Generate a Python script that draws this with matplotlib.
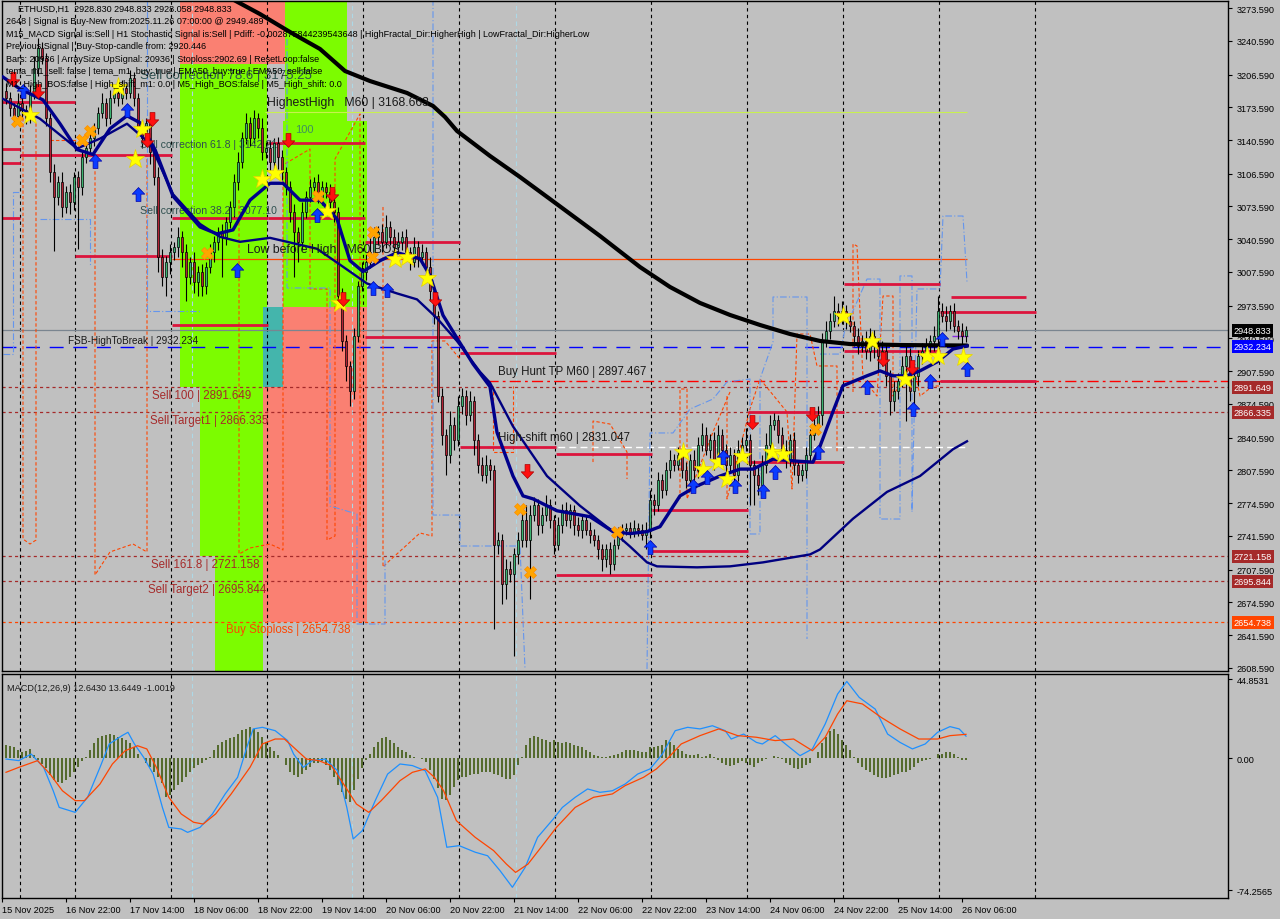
import matplotlib
matplotlib.use("Agg")
import matplotlib.pyplot as plt
from matplotlib.patches import Rectangle
from matplotlib.path import Path

plt.rcParams['font.family'] = ['Liberation Sans', 'DejaVu Sans']

# ---------------- data ----------------
first_open = 3190.0
closes = [3183, 3173, 3165, 3178, 3171, 3163, 3188, 3213, 3233, 3223,
          3163, 3108, 3083, 3098, 3073, 3088, 3078, 3103, 3093, 3123,
          3133, 3143, 3153, 3168, 3178, 3163, 3183, 3188, 3183, 3193,
          3188, 3203, 3183, 3153, 3143, 3158, 3128, 3103, 3023, 3003,
          3018, 3028, 3033, 3043, 3028, 3003, 3018, 2998, 3008, 2993,
          3013, 3028, 3038, 3048, 3043, 3058, 3073, 3098, 3118, 3143,
          3158, 3143, 3163, 3153, 3128, 3133, 3118, 3138, 3123, 3108,
          3093, 3068, 3048, 3038, 3068, 3083, 3093, 3098, 3083, 3093,
          3088, 3078, 3068, 2983, 2938, 2913, 2888, 2943, 2993, 3008,
          3018, 3028, 3043, 3048, 3038, 3053, 3043, 3033, 3038, 3043,
          3028, 3018, 3033, 3023, 3028, 3013, 2988, 2963, 2883, 2843,
          2823, 2853, 2838, 2873, 2883, 2863, 2878, 2838, 2813, 2803,
          2813, 2808, 2733, 2738, 2693, 2708, 2703, 2723, 2738, 2758,
          2738, 2763, 2773, 2753, 2763, 2773, 2758, 2733, 2753, 2768,
          2758, 2768, 2753, 2748, 2758, 2748, 2743, 2738, 2728, 2718,
          2728, 2713, 2733, 2743, 2748, 2750, 2746, 2750, 2748, 2743,
          2748, 2778, 2773, 2798, 2788, 2808, 2818, 2813, 2823, 2808,
          2798, 2818, 2808, 2833, 2843, 2828, 2838, 2818, 2843, 2828,
          2813, 2823, 2803, 2828, 2833, 2838, 2813, 2803, 2793, 2813,
          2833, 2853, 2858, 2843, 2828, 2818, 2838, 2813, 2803, 2808,
          2823, 2843, 2853, 2863, 2938, 2948, 2958, 2968, 2963, 2968,
          2958, 2953, 2943, 2933, 2938, 2928, 2943, 2933, 2923, 2928,
          2903, 2878, 2888, 2898, 2913, 2923, 2888, 2903, 2923, 2928,
          2933, 2938, 2943, 2968, 2963, 2958, 2968, 2953, 2948, 2943, 2948.833]
up_wick = [8, 6, 5, 10, 6, 5, 8, 12, 10, 6,
           5, 5, 8, 6, 10, 6, 8, 5, 6, 8,
           6, 8, 5, 6, 10, 5, 8, 6, 5, 8,
           5, 8, 6, 5, 8, 5, 6, 5, 10, 8,
           6, 8, 5, 10, 6, 8, 5, 10, 6, 8,
           5, 8, 6, 5, 8, 5, 6, 8, 10, 6,
           10, 6, 8, 5, 10, 6, 8, 5, 6, 8,
           5, 6, 8, 5, 10, 6, 8, 5, 8, 6,
           5, 8, 6, 5, 8, 6, 5, 8, 6, 10,
           8, 15, 10, 6, 8, 12, 6, 8, 10, 6,
           8, 5, 10, 6, 8, 5, 10, 6, 5, 8,
           6, 15, 8, 10, 8, 6, 10, 5, 6, 8,
           10, 6, 5, 8, 6, 10, 8, 6, 8, 12,
           15, 10, 8, 6, 8, 10, 6, 5, 8, 6,
           8, 6, 5, 8, 6, 5, 8, 6, 5, 6,
           6, 8, 6, 8, 6, 5, 6, 8, 5, 6,
           8, 10, 6, 8, 6, 8, 10, 6, 8, 6,
           8, 6, 10, 8, 12, 8, 6, 8, 10, 6,
           6, 8, 6, 10, 8, 12, 6, 5, 8, 10,
           12, 10, 8, 6, 8, 10, 6, 8, 5, 6,
           8, 6, 8, 10, 8, 10, 8, 15, 8, 10,
           6, 8, 5, 8, 6, 10, 8, 6, 8, 10,
           8, 6, 10, 8, 10, 12, 8, 10, 6, 8,
           8, 6, 10, 15, 8, 10, 6, 8, 6, 8, 4]
dn_wick = [6, 8, 10, 5, 8, 6, 5, 6, 8, 6,
           8, 10, 54, 8, 10, 6, 12, 8, 62, 8,
           6, 5, 8, 6, 5, 8, 6, 5, 8, 6,
           6, 5, 8, 6, 10, 8, 12, 8, 15, 10,
           20, 12, 8, 10, 15, 25, 8, 12, 15, 10,
           8, 6, 10, 8, 40, 8, 6, 10, 8, 6,
           6, 8, 5, 10, 8, 6, 10, 8, 12, 8,
           8, 10, 45, 20, 8, 6, 5, 8, 6, 8,
           6, 8, 10, 12, 10, 15, 15, 8, 6, 5,
           8, 6, 5, 8, 10, 6, 8, 10, 6, 8,
           6, 8, 5, 10, 8, 6, 10, 8, 6, 10,
           20, 8, 10, 6, 8, 10, 6, 15, 8, 6,
           8, 10, 85, 10, 20, 15, 8, 82, 10, 8,
           8, 60, 6, 10, 8, 6, 8, 10, 6, 8,
           6, 8, 10, 6, 8, 5, 8, 6, 10, 12,
           8, 10, 6, 5, 6, 5, 6, 5, 6, 5,
           15, 8, 10, 6, 8, 5, 8, 6, 5, 8,
           8, 6, 10, 8, 6, 5, 8, 10, 6, 8,
           10, 8, 12, 6, 8, 6, 40, 30, 10, 8,
           8, 6, 5, 8, 10, 8, 6, 10, 8, 6,
           8, 6, 5, 8, 10, 6, 8, 6, 10, 8,
           8, 6, 10, 8, 6, 8, 10, 12, 15, 10,
           10, 15, 10, 8, 6, 56, 10, 20, 10, 8,
           8, 6, 10, 8, 6, 10, 8, 6, 8, 10, 6]

# moving averages: (bar position, price)
fast_ma_bars = [-0.75, 3.5, 9.25, 13.5, 17.75, 21.75, 26, 30.25, 33.5, 37.25, 41.75, 48.5, 52.75, 56.75,
                61, 66, 69.25, 73.5, 78.5, 82.75, 86, 89.25, 93.5, 97.75, 103.5, 106, 109.25, 112.75,
                116.75, 121, 122.75, 126.75, 129.25, 131.75, 137.75, 146, 151.75, 156, 160.25, 163.5,
                168.5, 172.75, 178.5, 183.5, 186.75, 191.75, 197.75, 201.75, 203.5, 206.75, 209.25,
                215.25, 218.5, 221.75, 225.25, 228.5, 232.75, 236.75, 240.25]
fast_ma_vals = [3204, 3192, 3181, 3157, 3131, 3126, 3152, 3165, 3158, 3131, 3084, 3053, 3046, 3050,
                3080, 3097, 3097, 3080, 3080, 3061, 3019, 3008, 3019, 3027, 3021, 3004, 2964, 2941,
                2915, 2892, 2846, 2802, 2782, 2779, 2767, 2761, 2746, 2744, 2746, 2751,
                2782, 2792, 2802, 2809, 2809, 2819, 2817, 2816, 2832, 2867, 2893,
                2903, 2908, 2903, 2903, 2908, 2917, 2930, 2933]
slow_ma_bars = [-0.75, 8.5, 17.75, 23.5, 30.25, 36, 41.75, 48.5, 53.5, 58.5, 66, 77.75, 83.5, 90.25,
                97.75, 102.75, 107.75, 112.75, 118.5, 121, 126.75, 135.25, 143.5, 151.75, 156, 160.25,
                162.75, 172.75, 181, 189.25, 201, 203.5, 211.75, 220.25, 228.5, 236.75, 240.25]
slow_ma_vals = [3182, 3162, 3132, 3142, 3157, 3137, 3086, 3056, 3043, 3038, 3042, 3031, 3015, 2996,
                2986, 2980, 2961, 2938, 2907, 2896, 2852, 2802, 2772, 2746, 2731, 2715,
                2711, 2710, 2711, 2715, 2723, 2728, 2759, 2786, 2802, 2829, 2837]
long_ma_bars = [56.5, 63.5, 71, 78.5, 84.75, 91, 100.25, 106.75, 109.75, 112.75, 121, 128.5, 136, 148.5,
                158.5, 166, 173.5, 181, 188.5, 196, 203.5, 211, 223.5, 240.25]
long_ma_vals = [3282.7, 3267.5, 3249.4, 3232.3, 3210.1, 3200.0, 3188.0, 3174.9, 3163.8, 3149.7, 3124.5,
                3103.3, 3081.1, 3043.9, 3012.6, 2992.5, 2976.4, 2964.3, 2954.2, 2945.1, 2938.1, 2935.0,
                2934.0, 2933.5]

# MACD
macd_bars = [0, 3.2, 6.3, 9.4, 11.8, 13.3, 17.3, 20.4, 23.5, 25.8, 29.0, 30.5, 32.1, 34.4, 36.8, 39.1,
             40.7, 43.8, 45.4, 48.5, 51.6, 54.8, 57.9, 60.2, 61.8, 64.1, 67.3, 70.4, 71.9, 74.3, 76.6,
             79.8, 82.9, 85.2, 86.8, 89.1, 92.3, 95.4, 98.5, 101.6, 104.8, 107.9, 110.2, 113.3, 117.3,
             120.4, 123.5, 126.6, 129.8, 132.9, 136.8, 139.1, 142.3, 145.4, 148.5, 151.6, 154.8, 157.9,
             161.0, 164.1, 167.3, 170.4, 173.5, 176.6, 179.8, 181.3, 184.4, 187.6, 189.1, 192.3, 195.4,
             198.5, 201.6, 204.8, 207.9, 210.2, 213.3, 217.3, 220.4, 223.5, 226.6, 229.8, 232.9, 236.0,
             238.3, 240]
macd_vals = [-0.3, -1.2, 2.5, -5.0, -18.2, -27.6, -30.4, -21.9, -5.0, 8.2, 12.9, 14.8, 8.2, 0.7, -8.8,
             -27.6, -38.9, -39.8, -41.7, -38.9, -31.3, -20.0, -10.6, 6.3, 16.7, 17.6, 15.7, 10.1, 2.5,
             -5.0, -1.2, -0.3, -6.9, -27.6, -45.4, -40.7, -23.8, -8.8, -3.1, -4.0, -6.9, -21.9, -50.1,
             -49.2, -52.9, -54.9, -63.3, -72.7, -61.4, -44.5, -34.2, -27.6, -21.9, -17.2, -19.1, -18.2,
             -14.4, -8.8, -5.9, 2.5, 15.7, 17.6, 16.7, 18.5, 15.7, 11.0, 13.8, 9.1, 8.2, 12.9, 7.2, 1.6,
             5.4, 19.5, 36.4, 43.5, 34.5, 27.9, 13.8, 9.1, 5.4, 8.2, 14.8, 18.0, 16.7, 12.64]
signal_bars = [0, 3.2, 7.9, 11.0, 14.1, 17.3, 19.6, 23.5, 26.6, 29.8, 32.9, 35.2, 37.6, 40.7, 43.8, 46.9,
               49.3, 52.4, 56.3, 61.0, 64.1, 67.3, 69.6, 71.9, 75.1, 78.2, 81.3, 84.4, 87.6, 90.7, 93.8,
               98.5, 101.6, 104.8, 107.1, 109.4, 112.6, 117.3, 121.9, 125.1, 127.4, 130.5, 134.4, 137.6,
               142.3, 146.9, 151.6, 154.8, 159.4, 162.6, 165.7, 168.8, 173.5, 178.2, 182.9, 187.6, 192.3,
               196.9, 201.6, 204.8, 207.9, 210.2, 214.1, 218.8, 223.5, 228.2, 232.9, 236.0, 240]
signal_vals = [-7.8, -5.0, -1.2, -8.8, -18.2, -23.8, -23.8, -14.4, -3.1, 4.4, 7.2, 5.4, -5.0, -21.9,
               -31.3, -36.0, -37.0, -31.3, -20.0, -5.0, 8.2, 11.0, 11.0, 6.3, -0.3, -1.2, -4.0, -14.4,
               -25.7, -30.4, -23.8, -12.5, -7.8, -5.9, -10.6, -18.2, -35.1, -44.5, -52.0, -59.6, -64.3,
               -59.6, -48.3, -38.9, -27.6, -21.9, -20.0, -15.3, -10.6, -5.9, 0.7, 8.2, 12.9, 16.7, 12.9,
               12.0, 10.1, 11.0, 4.4, 12.0, 25.1, 32.6, 30.8, 23.2, 16.7, 11.0, 11.0, 12.9, 13.64]
hist_vals = [7.5, 7.1, 6.6, 4.7, 3.4, 4.0, 5.5, 2.0, -1.0, -3.0,
             -5.6, -9.4, -12.2, -13.2, -14.1, -12.2, -10.3, -7.5, -4.7, -1.5,
             0.9, 4.7, 8.5, 11.3, 12.8, 13.5, 13.9, 13.2, 12.2, 11.3,
             10.3, 8.5, 6.6, 2.8, 0.4, -2.3, -4.7, -7.5, -10.3, -14.1,
             -21.6, -20.7, -17.9, -15.0, -13.2, -10.3, -7.5, -5.6, -3.8, -2.3,
             -0.9, 0.9, 4.7, 7.5, 9.4, 10.3, 11.3, 12.2, 14.1, 16.0,
             16.9, 17.9, 16.5, 15.0, 12.2, 9.4, 6.6, 4.1, 1.9, 0.3,
             -3.8, -7.5, -9.4, -10.3, -8.5, -6.6, -4.7, -2.8, -2.3, -1.5,
             -3.8, -6.6, -10.3, -15.0, -18.8, -22.6, -24.4, -17.9, -11.3, -5.6,
             -0.9, 2.8, 6.6, 9.4, 11.3, 12.2, 10.3, 8.5, 6.6, 4.7,
             3.4, 1.9, 0.9, 0.3, -0.3, -1.9, -6.6, -11.3, -16.9, -22.9,
             -23.5, -20.7, -16.0, -12.2, -10.3, -10.3, -9.4, -9.0, -8.5, -7.9,
             -7.5, -7.9, -8.5, -9.4, -10.3, -11.3, -11.7, -9.4, -3.8, 0.9,
             7.5, 11.3, 12.6, 12.2, 10.9, 10.3, 9.4, 10.3, 9.4, 8.5,
             9.4, 8.5, 7.5, 7.1, 6.6, 4.7, 3.4, 1.9, 1.5, 0.9,
             0.9, 1.3, 1.9, 2.8, 3.8, 4.7, 4.7, 4.7, 4.1, 3.4,
             3.8, 6.6, 6.6, 7.1, 7.9, 10.3, 9.4, 7.5, 5.6, 4.1,
             2.8, 1.9, 1.9, 2.3, 0.9, 1.5, 2.3, 0.9, -0.9, -2.8,
             -3.8, -4.1, -3.4, -2.3, -1.5, -2.3, -3.8, -4.7, -2.8, -1.5,
             -0.4, 0.4, 1.5, 0.9, -0.4, -2.3, -3.8, -5.3, -6.0, -5.6,
             -3.8, -2.3, 0.3, 3.8, 8.5, 12.2, 15.4, 16.5, 14.1, 10.3,
             7.5, 4.7, 0.9, -2.3, -4.7, -6.6, -7.9, -9.4, -10.3, -10.9,
             -10.9, -10.3, -9.4, -9.0, -7.9, -7.5, -6.6, -4.7, -2.8, -1.5,
             -0.9, -0.4, 0.4, 2.3, 2.6, 3.4, 3.4, 2.6, 0.9, -1.1, -1.0019]

# levels
sell_levels = [2891.649, 2866.335, 2721.158, 2695.844]
stoploss_level = 2654.738
fsb_level = 2932.234
last_price = 2948.833
hunt_tp = 2897.467
high_shift = 2831.047
low_before_high = 3020.7
highest_high = 3168.663

# crimson segment levels: (start bar, end bar, price)
seg_start = [-1, -1, -1, -1, 3.5, 17.25, 41.5, 41.5, 65.5, 65.5, 89.75, 89.75, 113.5, 113.5,
             137.5, 137.5, 161.5, 161.5, 185.5, 185.5, 209.5, 209.5, 233.5, 233.5, 236.25]
seg_end = [3.5, 3.5, 3.5, 17.25, 41.5, 41.5, 65.5, 65.5, 89.75, 89.75, 113.5, 113.5, 137.5, 137.5,
           161.5, 161.5, 185.5, 185.5, 209.5, 209.5, 233.5, 233.5, 257.5, 257.5, 255]
seg_price = [3131.5, 3117.4, 3062.0, 3178.9, 3125.5, 3024.1, 3062.3, 2954.2, 3137.6, 3062.0, 3037.8,
             2942.1, 2926.0, 2831.7, 2824.2, 2702.3, 2768.1, 2726.8, 2866.5, 2816.4, 2995.5, 2928.3,
             2967.0, 2898.1, 2982.4]

# coloured zones: (bar0, bar1, price0, price1, colour)
zone_b0 = [43.5, 43.5, 69.75, 69.25, 64.25, 64.25, 48.5, 52.25]
zone_b1 = [69.75, 65.25, 85.25, 90.25, 90.25, 69.25, 64.25, 64.25]
zone_p0 = [3217.0, 2891.649, 3160.0, 2972.3, 2654.738, 2891.649, 2721.158, 2600.0]
zone_p1 = [3290.0, 3217.0, 3290.0, 3160.0, 2972.3, 2972.3, 2891.649, 2721.158]
zone_col = ['#fa8072', '#7cfc00', '#7cfc00', '#7cfc00', '#fa8072', '#44b5ac', '#7cfc00', '#7cfc00']

# envelope step lines
orange_bars = [
    [3.5, 4.25, 4.25, 6, 7.5, 7.5],
    [11, 17.75],
    [22.25, 22.25, 26, 31.75, 35.25, 35.25],
    [58.25, 58.25, 61, 66, 69.25, 69.25, 76, 76, 80.25, 80.25, 82.25, 82.25, 88.5, 88.5],
    [94.25, 94.25, 95.25, 103.5, 106.5, 106.5, 109.75, 113.5],
    [121.75, 121.75, 126.75, 126.75],
    [146.75, 146.75, 151, 155.25, 155.25],
    [168.5, 168.5, 170.25, 170.25, 176.75, 181],
    [180.25, 180.25, 186, 188.5, 195.25, 196.5, 197.75, 201, 202.75, 207.75, 207.75],
    [211.75, 211.75, 212.75, 214.25, 217.75, 219.25, 221.75, 221.75, 226.75, 228.5, 231.75, 233.5]]
orange_vals = [
    [3181.9, 3181.9, 2738.5, 2733.5, 2737.5, 3157.7],
    [3140.6, 3140.6],
    [3131.5, 2702.3, 2725.5, 2733.5, 2725.5, 3126.5],
    [3080.1, 2723.4, 2729.5, 2733.5, 2727.5, 3115.4, 3131.5, 2990.5, 2990.5, 2737.5, 2741.6, 3121.5, 3166.8, 2748.6],
    [3073.1, 2710.3, 2714.4, 2744.6, 2741.6, 2938.1, 2938.1, 2919.9],
    [2892.7, 2826.2, 2826.2, 2892.7],
    [2816.1, 2857.4, 2854.4, 2826.2, 2799.0],
    [2778.9, 2889.7, 2889.7, 2778.9, 2846.4, 2886.7],
    [2882.6, 2778.9, 2869.5, 2899.8, 2866.5, 2788.9, 2945.1, 2945.1, 2912.9, 2912.9, 2826.2],
    [2886.7, 3035.8, 3033.8, 2899.8, 2882.6, 2983.4, 2983.4, 2882.6, 2916.9, 2882.6, 2892.7, 2892.7]]
blue_bars = [
    [-0.75, 1.75, 1.75, 3.5],
    [8.5, 21, 21],
    [35.25, 35.25, 48.5],
    [70.25, 70.25, 75.25, 81, 81, 87.75, 87.75, 94.75, 94.75],
    [106.75, 106.75, 113.5, 113.5, 128.5, 129.75],
    [160.25, 161, 166.75, 171, 176.75, 180.25, 186, 186, 188.5, 188.5, 191.75, 191.75, 200.25, 200.25],
    [203.5, 208.5, 209.75, 215.25, 218.5, 218.5, 223.5, 223.5, 226.5, 226.5, 227.75, 232.75, 233.5, 234.25, 239.25, 240.25]]
blue_vals = [
    [2924.9, 2924.9, 3088.2, 3088.2],
    [3061, 3061, 3014.6],
    [3285, 2968.3, 2968.3],
    [3242.4, 2991.5, 2991.5, 2991.5, 2771.8, 2763.7, 2652.9, 2652.9, 2718.4],
    [3285, 2762.7, 2762.7, 2731.5, 2731.5, 2607.6],
    [2607.6, 2845.4, 2845.4, 2869.5, 2879.6, 2896.8, 2899.8, 2743.6, 2743.6, 2899.8, 2937.1, 2982.4, 2982.4, 2637.8],
    [2924.9, 2924.9, 2950.2, 3000.5, 3000.5, 2758.7, 2758.7, 3003.6, 3003.6, 2765.8, 2990.5, 2990.5, 2990.5, 3064.0, 3064.0, 2997.5]]

# signal markers
star_bars = [6, 28, 34, 32.25, 64, 67.25, 80.25, 83.5, 97.25, 100.25, 105.25, 169.25, 174.25, 178, 180.25,
             184, 191.5, 194.25, 209.25, 216.5, 224.75, 230.25, 233, 239.25]
star_vals = [3166, 3194, 3152, 3121.5, 3101, 3107, 3069, 2976.4, 3020.7, 3022.7, 3001.5, 2826.2, 2809,
             2816, 2799, 2822, 2826, 2824, 2963, 2938, 2900, 2923, 2923, 2922]
up_bars = [4.25, 22.25, 30.25, 33, 57.75, 77.75, 91.75, 95.25, 161, 171.75, 175.25, 179.25, 182.25,
           189.25, 192.25, 203, 215.25, 226.75, 231, 234, 240.25]
up_vals = [3190, 3119.4, 3170.8, 3086.2, 3009.6, 3065, 2991.5, 2989.4, 2730.5, 2792, 2801, 2821, 2792,
           2787, 2806, 2826, 2891.7, 2869.5, 2897.8, 2940, 2910]
down_bars = [1.75, 8, 35.25, 36.5, 70.5, 81.5, 84.25, 107.25, 130.25, 186.5, 201.5, 219.25, 226.5]
down_vals = [3202, 3190, 3140.6, 3162, 3140.6, 3086.2, 2980.4, 2980.4, 2807, 2856.5, 2864.5, 2920, 2912]
cross_bars = [2.75, 19, 21, 50.25, 78, 91.75, 91.5, 128.5, 131, 152.75, 202.25]
cross_vals = [3160, 3140.6, 3149.7, 3026.7, 3084.2, 3047.9, 3022.7, 2768.8, 2705.3, 2745.6, 2849.4]

day_separators = [3.5, 17.25, 41.25, 65.25, 89.25, 113.25, 137.25, 161.25, 185.25, 209.25, 233.25, 257.25]
light_separators = [46.5, 86.5, 127.5]

price_ticks = [3273.59, 3240.59, 3206.59, 3173.59, 3140.59, 3106.59, 3073.59, 3040.59, 3007.59, 2973.59,
               2940.59, 2907.59, 2874.59, 2840.59, 2807.59, 2774.59, 2741.59, 2707.59, 2674.59, 2641.59,
               2608.59]
time_tick_bars = [-1, 15, 31, 47, 63, 79, 95, 111, 127, 143, 159, 175, 191, 207, 223, 239]
time_tick_labels = ['15 Nov 2025', '16 Nov 22:00', '17 Nov 14:00', '18 Nov 06:00', '18 Nov 22:00',
                    '19 Nov 14:00', '20 Nov 06:00', '20 Nov 22:00', '21 Nov 14:00', '22 Nov 06:00',
                    '22 Nov 22:00', '23 Nov 14:00', '24 Nov 06:00', '24 Nov 22:00', '25 Nov 14:00',
                    '26 Nov 06:00']

header_lines = [
    "ETHUSD,H1  2928.830 2948.833 2928.058 2948.833",
    "2648 | Signal is Buy-New from:2025.11.26 07:00:00 @ 2949.489",
    "M15_MACD Signal is:Sell | H1 Stochastic Signal is:Sell | Pdiff: -0.002875844239543648 | HighFractal_Dir:HigherHigh | LowFractal_Dir:HigherLow",
    "Previous Signal | Buy-Stop-candle from: 2920.446",
    "Bars: 20936 | ArraySize UpSignal: 20936 | Stoploss:2902.69 | ResetLoop:false",
    "tema_m1_sell: false | tema_m1_buy: true | EMA50_buy:true | EMA50_sell:false",
    "M1_High_BOS:false | High_shift_m1: 0.0 | M5_High_BOS:false | M5_High_shift: 0.0",
]

# ---------------- figure ----------------
W, H = 1280, 920
fig = plt.figure(figsize=(12.8, 9.2), dpi=100)
BG = '#c0c0c0'
fig.patch.set_facecolor(BG)


def fx(px):
    return px / W


def fy(py):
    return 1 - py / H


ax = fig.add_axes([fx(2), fy(672), fx(1228) - fx(2), fy(2) - fy(672)])
mx = fig.add_axes([fx(2), fy(899), fx(1228) - fx(2), fy(675) - fy(899)])
for a in (ax, mx):
    a.set_facecolor(BG)
    for s in a.spines.values():
        s.set_color('black')
        s.set_linewidth(1.0)
    a.set_xlim(-1, 305.5)

ax.set_ylim(2605.55, 3280.65)
mx.set_ylim(-78.75, 47.7)

# zones
for b0, b1, p0, p1, c in zip(zone_b0, zone_b1, zone_p0, zone_p1, zone_col):
    ax.add_patch(Rectangle((b0, p0), b1 - b0, p1 - p0, facecolor=c, edgecolor='none', zorder=0.5))

# separators
for a in (ax, mx):
    for b in day_separators:
        a.axvline(b, color='black', lw=0.8, ls=(0, (3, 3)), zorder=1)
    for b in light_separators:
        a.axvline(b, color='#add8e6', lw=0.8, ls=(0, (4, 3)), zorder=1)

# full width level lines
for p in sell_levels:
    ax.axhline(p, color='#a52a2a', lw=0.9, ls=(0, (2.5, 2.5)), zorder=1.5)
ax.axhline(stoploss_level, color='#ff4500', lw=0.9, ls=(0, (2.5, 2.5)), zorder=1.5)
ax.axhline(fsb_level, color='#0000ff', lw=1.0, ls=(0, (10, 7)), zorder=1.5)
ax.axhline(last_price, color='#7a8590', lw=0.9, zorder=1.5)
ax.hlines(hunt_tp, 120.25, 305.5, color='#ff0000', lw=1.0, ls=(0, (8, 3, 2, 3)), zorder=1.5)
ax.hlines(high_shift, 118.5, 240.25, color='white', lw=1.0, ls=(0, (5, 3)), zorder=1.5)
ax.hlines(low_before_high, 41.5, 240.25, color='#ff4500', lw=0.9, zorder=1.5)
ax.hlines(highest_high, 64.75, 240.25, color='#c8f050', lw=0.8, zorder=1.5)
ax.hlines(2943.0, 236.5, 240.5, color='#8a2be2', lw=1.0, zorder=1.5)

# envelope step lines
for bb, vv in zip(orange_bars, orange_vals):
    ax.plot(bb, vv, color='#ff4500', lw=0.8, ls=(0, (3, 2)), zorder=2)
for bb, vv in zip(blue_bars, blue_vals):
    ax.plot(bb, vv, color='#6495ed', lw=0.8, ls=(0, (6, 2, 1, 2)), zorder=2)

# crimson segments
ax.hlines(seg_price, seg_start, seg_end, color='#dc143c', lw=2.0, zorder=2.5)

# candles
opens = [first_open] + closes[:-1]
xs = list(range(len(closes)))
highs = [max(o, c) + u for o, c, u in zip(opens, closes, up_wick)]
lows = [min(o, c) - d for o, c, d in zip(opens, closes, dn_wick)]
ax.vlines(xs, lows, highs, color='black', lw=0.8, zorder=3)
body_h = [c - o if abs(c - o) >= 1.2 else 1.2 for o, c in zip(opens, closes)]
body_c = ['#3cb371' if c >= o else '#b22234' for o, c in zip(opens, closes)]
ax.bar(xs, body_h, bottom=opens, width=0.72, color=body_c, edgecolor='black', linewidth=0.5, zorder=3.2)

# MAs
ax.plot(long_ma_bars, long_ma_vals, color='black', lw=3.0, zorder=4, solid_capstyle='round',
        solid_joinstyle='round')
ax.plot(slow_ma_bars, slow_ma_vals, color='#000080', lw=1.7, zorder=4, solid_joinstyle='round')
ax.plot(fast_ma_bars, fast_ma_vals, color='#00008b', lw=2.4, zorder=4.1, solid_joinstyle='round')

# markers
up_arrow = Path([(0, 1), (-0.9, 0.05), (-0.35, 0.05), (-0.35, -1), (0.35, -1), (0.35, 0.05), (0.9, 0.05), (0, 1)])
down_arrow = Path([(0, -1), (-0.9, -0.05), (-0.35, -0.05), (-0.35, 1), (0.35, 1), (0.35, -0.05), (0.9, -0.05), (0, -1)])
ax.plot(star_bars, star_vals, ls='none', marker='*', ms=14, mfc='#ffff00', mec='#e6d200', mew=0.5, zorder=5)
ax.plot(up_bars, up_vals, ls='none', marker=up_arrow, ms=10, mfc='#0a3cff', mec='#0000aa', mew=0.5, zorder=5)
ax.plot(down_bars, down_vals, ls='none', marker=down_arrow, ms=10, mfc='#ff1010', mec='#aa0000', mew=0.5, zorder=5)
ax.plot(cross_bars, cross_vals, ls='none', marker='X', ms=9, mfc='#ffa500', mec='#ff8c00', mew=0.5, zorder=5)

# labels on chart
lab_kw = dict(fontsize=8.3, va='center', ha='left', zorder=6)
ax.text(36.5, 2883.7, 'Sell 100 | 2891.649', color='#a52a2a', **lab_kw)
ax.text(36.0, 2858.5, 'Sell Target1 | 2866.335', color='#a52a2a', **lab_kw)
ax.text(36.25, 2713.4, 'Sell 161.8 | 2721.158', color='#a52a2a', **lab_kw)
ax.text(35.5, 2688.2, 'Sell Target2 | 2695.844', color='#a52a2a', **lab_kw)
ax.text(55.0, 2647.9, 'Buy Stoploss | 2654.738', color='#ff4500', **lab_kw)
ax.text(123.0, 2907.8, 'Buy Hunt TP M60 | 2897.467', color='#1a1a1a', **lab_kw)
ax.text(123.0, 2841.3, 'High-shift m60 | 2831.047', color='#1a1a1a', **lab_kw)
ax.text(15.5, 2939.1, 'FSB-HighToBreak | 2932.234', color='#1a1a1a', fontsize=7.2, va='center', ha='left', zorder=6)
ax.text(65.25, 3178.9, 'HighestHigh   M60 | 3168.663', color='#1a1a1a', fontsize=8.8, va='center', ha='left', zorder=6)
ax.text(60.25, 3030.8, 'Low before High   M60 BOS', color='#1a1a1a', fontsize=8.8, va='center', ha='left', zorder=6)
ax.text(33.5, 3136.6, 'Sell correction 61.8 | 3142.21', color='#2f4f4f', fontsize=7.6, va='center', ha='left', zorder=3.1)
ax.text(33.5, 3070.1, 'Sell correction 38.2 | 3077.10', color='#2f4f4f', fontsize=7.6, va='center', ha='left', zorder=3.1)
ax.text(33.5, 3206.1, 'Sell correction 78.6 | 3175.25', color='#2f4f4f', fontsize=9.5, va='center', ha='left', zorder=3.1)
ax.text(72.25, 3151.7, '100', color='#3f8f5f', fontsize=8, va='center', ha='left', zorder=3.1)

# header text
for i, line in enumerate(header_lines):
    fig.text(fx(18 if i == 0 else 6), fy(9 + i * 12.6), line, fontsize=6.5, color='black',
             va='center', ha='left', zorder=10)

# right price axis
ax.yaxis.tick_right()
ax.set_yticks(price_ticks)
ax.set_yticklabels(['%.3f' % p for p in price_ticks])
ax.tick_params(axis='y', labelsize=6.6, length=3, pad=3, colors='black')
ax.tick_params(axis='x', bottom=False, labelbottom=False)

box_prices = [last_price, fsb_level, 2891.649, 2866.335, 2721.158, 2695.844, stoploss_level]
box_colors = ['black', '#0000ff', '#a52a2a', '#a52a2a', '#a52a2a', '#a52a2a', '#ff4500']
ytr = ax.get_yaxis_transform()
for p, c in zip(box_prices, box_colors):
    ax.text(1.0045, p, '%.3f' % p, transform=ytr, fontsize=6.6, color='white', va='center', ha='left',
            bbox=dict(boxstyle='square,pad=0.22', fc=c, ec='none'), zorder=12, clip_on=False)

# MACD pane
mx.bar(xs, hist_vals, width=0.72, color='#556b2f', zorder=2)
mx.plot(macd_bars, macd_vals, color='#1e90ff', lw=0.9, zorder=3)
mx.plot(signal_bars, signal_vals, color='#ff4500', lw=0.9, zorder=3)
mx.yaxis.tick_right()
mx.set_yticks([44.8531, 0.0, -74.2565])
mx.set_yticklabels(['44.8531', '0.00', '-74.2565'])
mx.tick_params(axis='y', labelsize=6.6, length=3, pad=3)
mx.set_xticks(time_tick_bars)
mx.set_xticklabels(time_tick_labels)
mx.tick_params(axis='x', labelsize=6.6, length=3, pad=2)
for t in mx.get_xticklabels():
    t.set_ha('left')
mx.text(0.004, 0.94, 'MACD(12,26,9) 12.6430 13.6449 -1.0019', transform=mx.transAxes, fontsize=6.6,
        va='center', ha='left', color='#1a1a1a')

fig.savefig('out.png', dpi=100, facecolor=BG)
